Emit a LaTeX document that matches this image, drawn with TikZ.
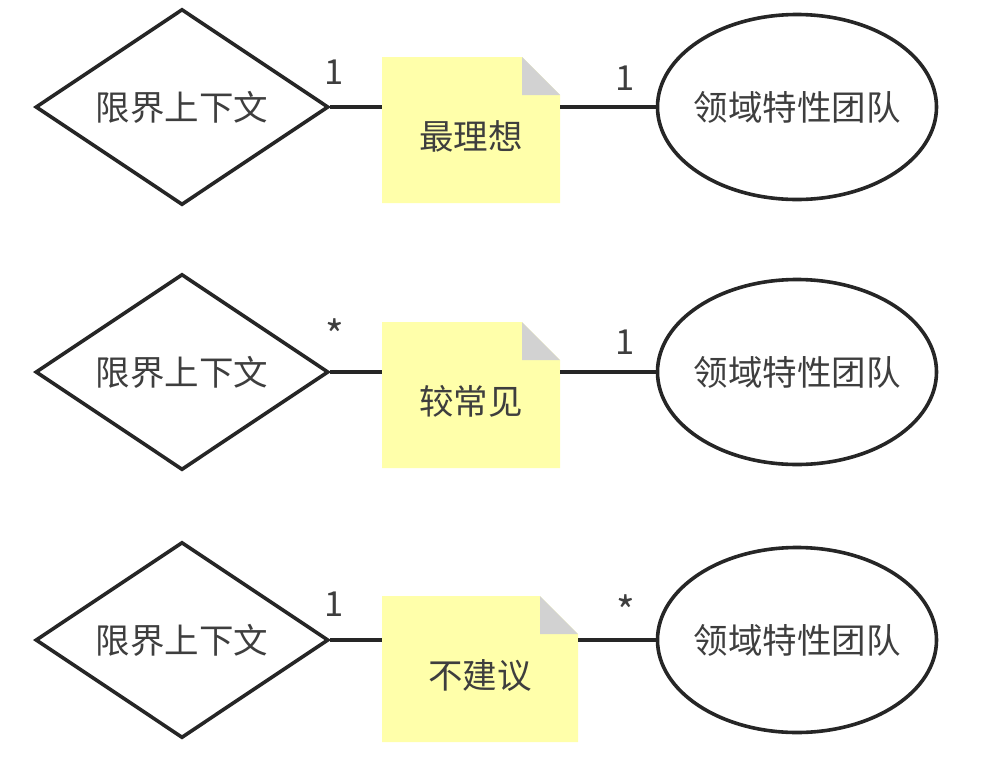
\documentclass[tikz,border=0pt]{standalone}
\usepackage{fontspec}
\newfontfamily\cjk{Noto Sans CJK SC}
\usetikzlibrary{shapes.geometric}

\definecolor{notefill}{RGB}{255,255,170}
\definecolor{foldgray}{RGB}{210,210,210}
\definecolor{inkgray}{RGB}{62,62,62}

\tikzset{
  ctx/.style={diamond, draw=black!85, line width=3.6pt, inner sep=0pt, shape aspect=1.5,
    minimum width=293pt, minimum height=196pt, text=inkgray},
  team/.style={ellipse, draw=black!85, line width=3.6pt, inner xsep=-15pt, inner ysep=0pt,
    minimum width=279pt, minimum height=185pt, text=inkgray},
  % yellow note with folded corner
  notebox/.style={rectangle, inner sep=0pt, minimum height=146pt,
    text height=42pt, text depth=4pt, text=inkgray,
    path picture={
      \fill[notefill] (path picture bounding box.north west)
        -- ([xshift=-38pt]path picture bounding box.north east)
        -- ([yshift=-38pt]path picture bounding box.north east)
        -- (path picture bounding box.south east)
        -- (path picture bounding box.south west) -- cycle;
      \fill[foldgray] ([xshift=-38pt]path picture bounding box.north east)
        -- ([xshift=-38pt,yshift=-38pt]path picture bounding box.north east)
        -- ([yshift=-38pt]path picture bounding box.north east) -- cycle;
    }},
  link/.style={line width=3.6pt, draw=black!85},
  mult/.style={text=inkgray, inner sep=0pt}
}

\begin{document}
\begin{tikzpicture}[x=1pt, y=-1pt, font=\cjk\fontsize{34.5}{40}\selectfont]
        \useasboundingbox (0,0) rectangle (1002,756);

        % Row 1
        \node[notebox, minimum width=178pt] (n1) at (471,130) {最理想};
        \node[ctx] (d1) at (182,107) {限界上下文};
        \node[team] (e1) at (797,107) {领域特性团队};
        \draw[link] (d1.east) -- (d1.east -| n1.west);
        \draw[link] (n1.east |- e1.west) -- (e1.west);
        \node[mult] (m1a) at (334,72) {1};
        \node[mult] (m1b) at (625,78) {1};

        % Row 2
        \node[notebox, minimum width=178pt] (n2) at (471,395) {较常见};
        \node[ctx] (d2) at (182,372) {限界上下文};
        \node[team] (e2) at (797,372) {领域特性团队};
        \draw[link] (d2.east) -- (d2.east -| n2.west);
        \draw[link] (n2.east |- e2.west) -- (e2.west);
        \node[mult, font=\cjk\fontsize{40}{40}\selectfont] (m2a) at (335,335) {*};
        \node[mult] (m2b) at (625,342) {1};

        % Row 3
        \node[notebox, minimum width=196pt] (n3) at (480,669) {不建议};
        \node[ctx] (d3) at (182,640) {限界上下文};
        \node[team] (e3) at (797,640) {领域特性团队};
        \draw[link] (d3.east) -- (d3.east -| n3.west);
        \draw[link] (n3.east |- e3.west) -- (e3.west);
        \node[mult] (m3a) at (334,604) {1};
        \node[mult, font=\cjk\fontsize{40}{40}\selectfont] (m3b) at (626,611) {*};
\end{tikzpicture}
\end{document}
